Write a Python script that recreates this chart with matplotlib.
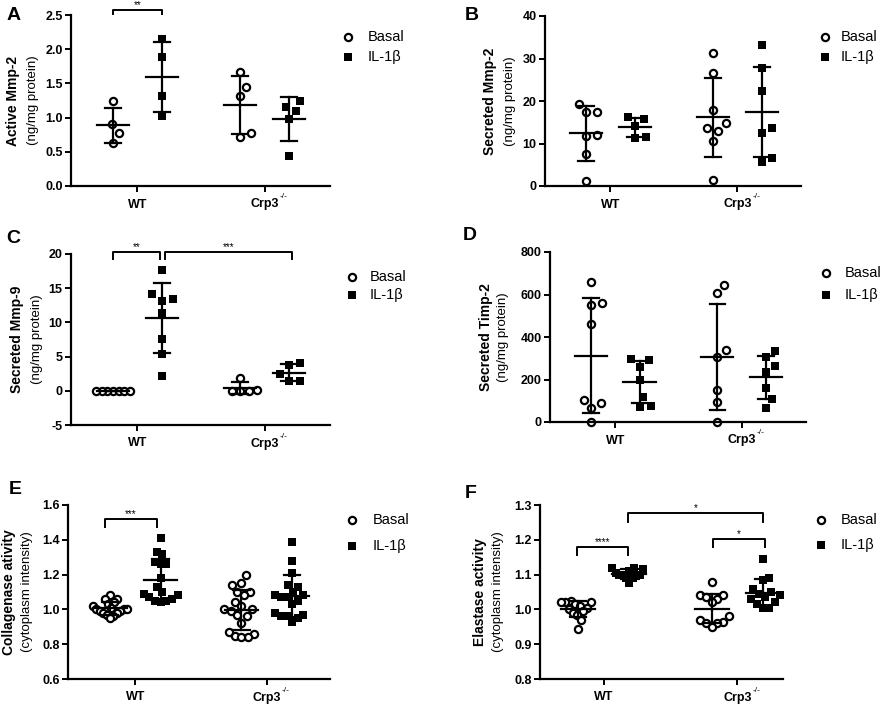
import numpy as np
import matplotlib
matplotlib.use('Agg')
import matplotlib.pyplot as plt
from matplotlib.lines import Line2D

plt.rcParams['font.family'] = ['Liberation Sans', 'DejaVu Sans']

W, H = 886, 705

# groups / treatments
group_labels = ['WT', 'Crp3']
knockout_sup = '-/-'
treat_labels = ['Basal', 'IL-1β']

# A - active Mmp-2
a_wt_basal = [1.24, 0.90, 0.77, 0.63]
a_wt_il = [2.15, 1.89, 1.31, 1.03]
a_ko_basal = [1.67, 1.45, 1.31, 0.72, 0.77]
a_ko_il = [1.25, 1.15, 1.10, 0.98, 0.44]

# B - secreted Mmp-2
b_wt_basal = [19.3, 17.5, 17.4, 11.7, 12.1, 7.5, 1.2]
b_wt_il = [16.2, 15.8, 14.2, 11.6, 11.4]
b_ko_basal = [31.4, 26.5, 17.8, 14.8, 13.6, 13.0, 10.6, 1.5]
b_ko_il = [33.2, 27.8, 22.3, 13.6, 12.5, 6.6, 5.7]

# C - secreted Mmp-9
c_wt_basal = [0, 0, 0, 0, 0, 0, 0]
c_wt_il = [17.7, 14.1, 13.4, 13.2, 11.4, 7.6, 5.4, 2.1]
c_ko_basal = [1.9, 0.1, 0, 0, 0]
c_ko_il = [4.1, 3.7, 2.5, 1.5, 1.5]

# D - secreted Timp-2
d_wt_basal = [660, 560, 550, 460, 105, 90, 65, 0]
d_wt_il = [295, 290, 260, 200, 120, 75, 70]
d_ko_basal = [645, 605, 340, 305, 150, 95, 0]
d_ko_il = [335, 305, 265, 235, 160, 110, 65]

# E - collagenase activity
e_wt_basal = [1.08, 1.06, 1.06, 1.04, 1.03, 1.02, 1.01, 1.00, 1.00, 1.00,
              0.99, 0.99, 0.98, 0.98, 0.97, 0.96, 0.95]
e_wt_il = [1.41, 1.33, 1.32, 1.27, 1.26, 1.26, 1.18, 1.13, 1.10, 1.09,
           1.08, 1.07, 1.06, 1.05, 1.05, 1.04]
e_ko_basal = [1.20, 1.15, 1.14, 1.10, 1.10, 1.08, 1.04, 1.02, 1.00, 1.00,
              0.99, 0.97, 0.96, 0.92, 0.87, 0.86, 0.85, 0.84, 0.84]
e_ko_il = [1.39, 1.28, 1.21, 1.14, 1.13, 1.10, 1.08, 1.08, 1.07, 1.07,
           1.05, 1.03, 0.98, 0.97, 0.96, 0.96, 0.95, 0.93]

# F - elastase activity
f_wt_basal = [1.025, 1.02, 1.02, 1.02, 1.015, 1.01, 1.005, 1.00, 0.995,
              0.99, 0.985, 0.97, 0.945]
f_wt_il = [1.12, 1.12, 1.115, 1.11, 1.105, 1.10, 1.10, 1.10, 1.095, 1.09,
           1.09, 1.075]
f_ko_basal = [1.08, 1.04, 1.04, 1.035, 1.03, 1.02, 0.98, 0.97, 0.965, 0.96,
              0.96, 0.95]
f_ko_il = [1.145, 1.09, 1.085, 1.06, 1.05, 1.045, 1.04, 1.035, 1.03, 1.02,
           1.015, 1.005, 1.005]

xpos = [0, 1, 2.6, 3.6]
xticks = [0.5, 3.1]

panels = [
    dict(letter='A', letter_xy=(14, 15), rect=(71, 15, 330, 186), xlim=(-0.86, 4.44),
         data=[a_wt_basal, a_wt_il, a_ko_basal, a_ko_il],
         ylim=(0, 2.5), yticks=np.arange(0, 2.51, 0.5), fmt='{:.1f}',
         ylab=('Active Mmp-2', '(ng/mg protein)'), ylab_off=(-58, -38),
         legend=(348, 37, 57, 368),
         brackets=[(0, 1, 2.575, 2.515, '**')]),
    dict(letter='B', letter_xy=(472, 16), rect=(545, 16, 801, 186), xlim=(-0.84, 4.40),
         data=[b_wt_basal, b_wt_il, b_ko_basal, b_ko_il],
         ylim=(0, 40), yticks=np.arange(0, 41, 10), fmt='{:.0f}',
         ylab=('Secreted Mmp-2', '(ng/mg protein)'), ylab_off=(-55, -35),
         legend=(825, 37, 57, 841), brackets=[]),
    dict(letter='C', letter_xy=(13, 238), rect=(71, 254, 330, 425), xlim=(-0.86, 4.44),
         data=[c_wt_basal, c_wt_il, c_ko_basal, c_ko_il],
         ylim=(-5, 20), yticks=np.arange(-5, 21, 5), fmt='{:.0f}',
         ylab=('Secreted Mmp-9', '(ng/mg protein)'), ylab_off=(-54, -34),
         legend=(352, 277, 295, 370),
         brackets=[(0, 0.96, 20.25, 19.27, '**'), (1.06, 3.66, 20.25, 19.27, '***')]),
    dict(letter='D', letter_xy=(470, 236), rect=(550, 252, 806, 422), xlim=(-0.84, 4.42),
         data=[d_wt_basal, d_wt_il, d_ko_basal, d_ko_il],
         ylim=(0, 800), yticks=np.arange(0, 801, 200), fmt='{:.0f}',
         ylab=('Secreted Timp-2', '(ng/mg protein)'), ylab_off=(-64, -47),
         legend=(826, 273, 295, 845), brackets=[]),
    dict(letter='E', letter_xy=(15, 489), rect=(68, 505, 330, 679), xlim=(-0.83, 4.35),
         data=[e_wt_basal, e_wt_il, e_ko_basal, e_ko_il],
         ylim=(0.6, 1.6), yticks=np.arange(0.6, 1.61, 0.2), fmt='{:.1f}',
         ylab=('Collagenase ativity', '(cytoplasm intensity)'), ylab_off=(-59, -41),
         legend=(352, 520, 546, 373),
         brackets=[(-0.1, 0.92, 1.52, 1.474, '***')]),
    dict(letter='F', letter_xy=(471, 494), rect=(540, 505, 783, 679), xlim=(-0.74, 3.99),
         data=[f_wt_basal, f_wt_il, f_ko_basal, f_ko_il],
         ylim=(0.8, 1.3), yticks=np.arange(0.8, 1.31, 0.1), fmt='{:.1f}',
         ylab=('Elastase activity', '(cytoplasm intensity)'), ylab_off=(-60, -42),
         legend=(821, 520, 545, 841),
         brackets=[(-0.02, 0.97, 1.179, 1.156, '****'),
                   (0.97, 3.6, 1.277, 1.251, '*'),
                   (2.63, 3.64, 1.202, 1.179, '*')]),
]


def swarm(vals, xppu, yppu, d=11.0, max_half=17.0):
    # simple beeswarm in pixel space, squeezed if it gets too wide
    vals = np.asarray(vals, float)
    order = np.argsort(vals)
    placed = []
    offs = np.zeros(len(vals))
    cands = [0.0]
    for k in range(1, 120):
        cands += [k * 0.5, -k * 0.5]
    for i in order:
        yp = vals[i] * yppu
        for c in cands:
            if all((c - px) ** 2 + (yp - py) ** 2 >= d ** 2 for px, py in placed):
                placed.append((c, yp))
                offs[i] = c
                break
    widest = np.abs(offs).max()
    if widest > max_half:
        offs = offs * max_half / widest
    return offs / xppu


fig = plt.figure(figsize=(W / 100, H / 100), dpi=100)

for p in panels:
    l, t, r, b = p['rect']
    ax = fig.add_axes([l / W, 1 - b / H, (r - l) / W, (b - t) / H])
    ax.set_xlim(*p['xlim'])
    ax.set_ylim(*p['ylim'])
    xppu = (r - l) / (p['xlim'][1] - p['xlim'][0])
    yppu = (b - t) / (p['ylim'][1] - p['ylim'][0])

    for j, vals in enumerate(p['data']):
        x = xpos[j] + swarm(vals, xppu, yppu)
        if j % 2 == 0:
            ax.plot(x, vals, 'o', ms=5.2, mfc='white', mec='black', mew=1.6,
                    ls='none', zorder=2, clip_on=False)
        else:
            ax.plot(x, vals, 's', ms=5.2, mfc='black', mec='black', mew=0,
                    ls='none', zorder=2, clip_on=False)
        m = np.mean(vals)
        sd = np.std(vals, ddof=1)
        xc = xpos[j]
        ax.plot([xc, xc], [m - sd, m + sd], color='black', lw=1.6, zorder=3)
        ax.plot([xc - 0.33, xc + 0.33], [m, m], color='black', lw=1.6, zorder=3)
        for yy in (m - sd, m + sd):
            ax.plot([xc - 0.16, xc + 0.16], [yy, yy], color='black', lw=1.6, zorder=3)

    for x1, x2, yt, yd, star in p['brackets']:
        ax.plot([x1, x1, x2, x2], [yd, yt, yt, yd], color='black', lw=1.4,
                clip_on=False, zorder=3)
        ax.text((x1 + x2) / 2, yt, star, ha='center', va='bottom', fontsize=7)

    ax.spines['top'].set_visible(False)
    ax.spines['right'].set_visible(False)
    for s in ('left', 'bottom'):
        ax.spines[s].set_linewidth(1.6)
    ax.set_yticks(p['yticks'])
    ax.set_yticklabels([p['fmt'].format(v) for v in p['yticks']],
                       fontsize=9, fontweight='bold')
    ax.set_xticks(xticks)
    ax.set_xticklabels(group_labels, fontsize=9, fontweight='bold')
    ax.tick_params(axis='both', width=1.4, length=4, pad=2)
    ax.tick_params(axis='x', pad=5)
    # superscript -/- next to Crp3
    ax.annotate(knockout_sup, xy=(xticks[1], 0), xycoords=('data', 'axes fraction'),
                xytext=(15, -11), textcoords='offset pixels',
                ha='left', va='center', fontsize=6)

    # two-line y label
    cy = 1 - (t + b) / 2 / H
    fig.text((l + p['ylab_off'][0]) / W, cy, p['ylab'][0], rotation=90,
             ha='center', va='center', fontsize=10, fontweight='bold')
    fig.text((l + p['ylab_off'][1]) / W, cy, p['ylab'][1], rotation=90,
             ha='center', va='center', fontsize=9.5)

    # panel letter
    lx, ly = p['letter_xy']
    fig.text(lx / W, 1 - ly / H, p['letter'], ha='center', va='center',
             fontsize=14, fontweight='bold')

    # legend
    mx, y1, y2, tx = p['legend']
    fig.add_artist(Line2D([mx / W], [1 - y1 / H], marker='o', ms=5.2, mfc='white',
                          mec='black', mew=1.6, ls='none', transform=fig.transFigure))
    fig.add_artist(Line2D([mx / W], [1 - y2 / H], marker='s', ms=5.2, mfc='black',
                          mec='black', mew=0, ls='none', transform=fig.transFigure))
    fig.text(tx / W, 1 - y1 / H, treat_labels[0], ha='left', va='center', fontsize=10.5)
    fig.text(tx / W, 1 - y2 / H, treat_labels[1], ha='left', va='center', fontsize=10.5)

fig.savefig('out.png', dpi=100)
